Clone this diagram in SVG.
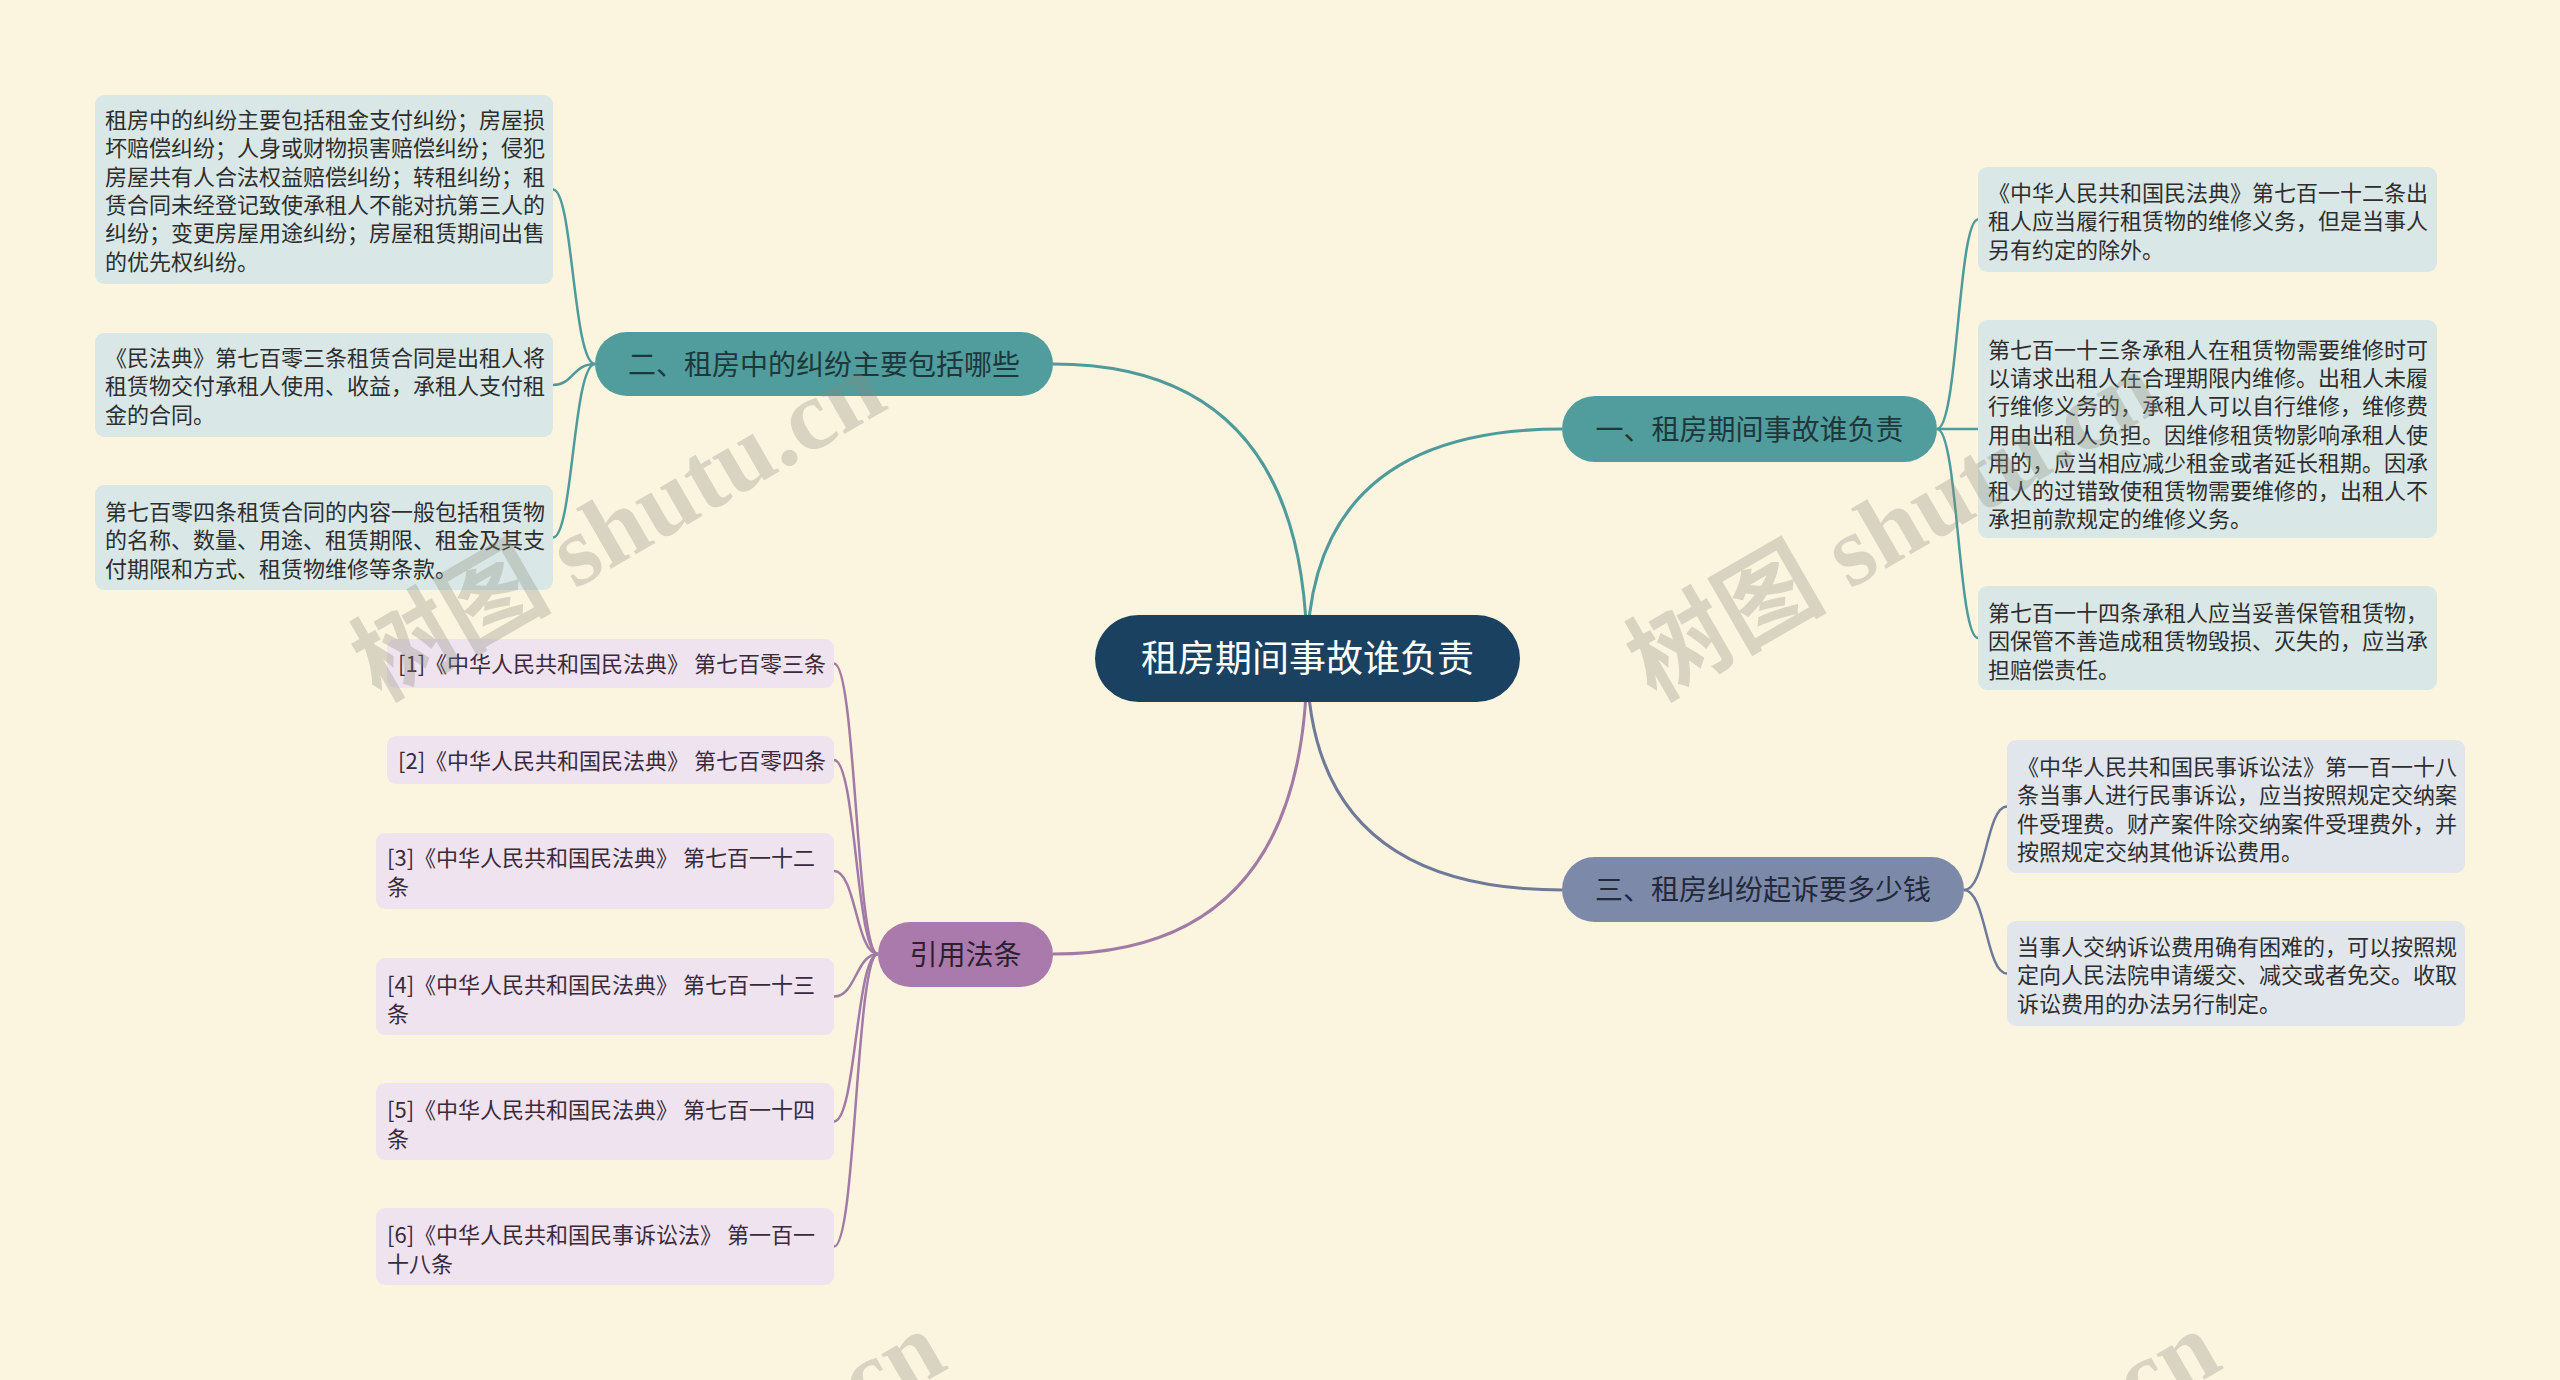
<svg xmlns="http://www.w3.org/2000/svg" width="2560" height="1380" viewBox="0 0 2560 1380">
<style>
text{font-family:"Noto Sans CJK SC","Noto Sans",sans-serif;}
.leaf{font-size:22px;fill:#2e2e2e;}
.cite{font-size:22px;fill:#3a2a3c;}
.br{font-size:28px;}
.c-teal{fill:#519c9c;}
.c-slate{fill:#7d89a9;}
.c-purple{fill:#a97aab;}
.l-teal{fill:#d9e8e6;}
.l-slate{fill:#e1e5ec;}
.l-purple{fill:#eee3ee;}
.k-teal{stroke:#4f9a9b;}
.k-slate{stroke:#6f7a99;}
.k-purple{stroke:#a27aa6;}
#connectors path{fill:none;stroke-width:2.5;}
#connectors .main{stroke-width:3;}
.wm{font-family:"Liberation Serif","Noto Sans CJK SC",serif;font-size:100px;font-weight:bold;fill:#8c8a7c;opacity:0.3;}
</style>
<rect width="2560" height="1380" fill="#fbf5e0"/>

<g id="connectors">
  <path class="main k-teal" d="M1053,364 Q1307,364 1307,658"/>
  <path class="main k-teal" d="M1562,429 Q1307,429 1307,658"/>
  <path class="main k-slate" d="M1562,890 Q1307,890 1307,658"/>
  <path class="main k-purple" d="M1053,954 Q1307,954 1307,658"/>
  <path class="k-teal" d="M595,364 C573,364 573,189.5 553,189.5"/>
  <path class="k-teal" d="M595,364 C573,364 573,385 553,385"/>
  <path class="k-teal" d="M595,364 C573,364 573,537.5 553,537.5"/>
  <path class="k-teal" d="M1937,429 C1958,429 1958,219.5 1978,219.5"/>
  <path class="k-teal" d="M1937,429 C1958,429 1958,429 1978,429"/>
  <path class="k-teal" d="M1937,429 C1958,429 1958,638 1978,638"/>
  <path class="k-slate" d="M1964,890 C1986,890 1986,806.5 2007,806.5"/>
  <path class="k-slate" d="M1964,890 C1986,890 1986,973.5 2007,973.5"/>
  <path class="k-purple" d="M878,954 C856,954 856,663.5 834,663.5"/>
  <path class="k-purple" d="M878,954 C856,954 856,760 834,760"/>
  <path class="k-purple" d="M878,954 C856,954 856,871 834,871"/>
  <path class="k-purple" d="M878,954 C856,954 856,996.5 834,996.5"/>
  <path class="k-purple" d="M878,954 C856,954 856,1121.5 834,1121.5"/>
  <path class="k-purple" d="M878,954 C856,954 856,1246.5 834,1246.5"/>
</g>

<g id="center">
  <rect x="1095" y="615" width="425" height="87" rx="43.5" fill="#1b4161"/>
  <text x="1307.5" y="672" font-size="37" fill="#ffffff" text-anchor="middle">租房期间事故谁负责</text>
</g>

<g id="branch-1">
  <rect class="c-teal" x="1562" y="396" width="375" height="66" rx="33"/>
  <text class="br" x="1749.5" y="439.5" fill="#1d383b" text-anchor="middle">一、租房期间事故谁负责</text>
</g>
<g id="branch-2">
  <rect class="c-teal" x="595" y="332" width="458" height="64" rx="32"/>
  <text class="br" x="824" y="374.5" fill="#1d383b" text-anchor="middle">二、租房中的纠纷主要包括哪些</text>
</g>
<g id="branch-3">
  <rect class="c-slate" x="1562" y="857" width="402" height="65" rx="32.5"/>
  <text class="br" x="1763" y="900" fill="#222a3a" text-anchor="middle">三、租房纠纷起诉要多少钱</text>
</g>
<g id="branch-cite">
  <rect class="c-purple" x="878" y="922" width="175" height="65" rx="32.5"/>
  <text class="br" x="965.5" y="965" fill="#2e1f30" text-anchor="middle">引用法条</text>
</g>

<g id="leaf-2a">
  <rect class="l-teal" x="95" y="95" width="458" height="189" rx="9"/>
  <text class="leaf" x="105" y="128">租房中的纠纷主要包括租金支付纠纷；房屋损</text>
  <text class="leaf" x="105" y="156.3">坏赔偿纠纷；人身或财物损害赔偿纠纷；侵犯</text>
  <text class="leaf" x="105" y="184.6">房屋共有人合法权益赔偿纠纷；转租纠纷；租</text>
  <text class="leaf" x="105" y="212.9">赁合同未经登记致使承租人不能对抗第三人的</text>
  <text class="leaf" x="105" y="241.2">纠纷；变更房屋用途纠纷；房屋租赁期间出售</text>
  <text class="leaf" x="105" y="269.5">的优先权纠纷。</text>
</g>
<g id="leaf-2b">
  <rect class="l-teal" x="95" y="333" width="458" height="104" rx="9"/>
  <text class="leaf" x="105" y="366">《民法典》第七百零三条租赁合同是出租人将</text>
  <text class="leaf" x="105" y="394.3">租赁物交付承租人使用、收益，承租人支付租</text>
  <text class="leaf" x="105" y="422.6">金的合同。</text>
</g>
<g id="leaf-2c">
  <rect class="l-teal" x="95" y="485" width="458" height="105" rx="9"/>
  <text class="leaf" x="105" y="520">第七百零四条租赁合同的内容一般包括租赁物</text>
  <text class="leaf" x="105" y="548.3">的名称、数量、用途、租赁期限、租金及其支</text>
  <text class="leaf" x="105" y="576.6">付期限和方式、租赁物维修等条款。</text>
</g>

<g id="leaf-1a">
  <rect class="l-teal" x="1978" y="167" width="459" height="105" rx="9"/>
  <text class="leaf" x="1988" y="201">《中华人民共和国民法典》第七百一十二条出</text>
  <text class="leaf" x="1988" y="229.3">租人应当履行租赁物的维修义务，但是当事人</text>
  <text class="leaf" x="1988" y="257.6">另有约定的除外。</text>
</g>
<g id="leaf-1b">
  <rect class="l-teal" x="1978" y="320" width="459" height="218" rx="9"/>
  <text class="leaf" x="1988" y="358">第七百一十三条承租人在租赁物需要维修时可</text>
  <text class="leaf" x="1988" y="386.2">以请求出租人在合理期限内维修。出租人未履</text>
  <text class="leaf" x="1988" y="414.4">行维修义务的，承租人可以自行维修，维修费</text>
  <text class="leaf" x="1988" y="442.6">用由出租人负担。因维修租赁物影响承租人使</text>
  <text class="leaf" x="1988" y="470.8">用的，应当相应减少租金或者延长租期。因承</text>
  <text class="leaf" x="1988" y="499">租人的过错致使租赁物需要维修的，出租人不</text>
  <text class="leaf" x="1988" y="527.2">承担前款规定的维修义务。</text>
</g>
<g id="leaf-1c">
  <rect class="l-teal" x="1978" y="586" width="459" height="104" rx="9"/>
  <text class="leaf" x="1988" y="621">第七百一十四条承租人应当妥善保管租赁物，</text>
  <text class="leaf" x="1988" y="649.3">因保管不善造成租赁物毁损、灭失的，应当承</text>
  <text class="leaf" x="1988" y="677.6">担赔偿责任。</text>
</g>

<g id="leaf-3a">
  <rect class="l-slate" x="2007" y="740" width="458" height="133" rx="9"/>
  <text class="leaf" x="2017" y="775">《中华人民共和国民事诉讼法》第一百一十八</text>
  <text class="leaf" x="2017" y="803.3">条当事人进行民事诉讼，应当按照规定交纳案</text>
  <text class="leaf" x="2017" y="831.6">件受理费。财产案件除交纳案件受理费外，并</text>
  <text class="leaf" x="2017" y="859.9">按照规定交纳其他诉讼费用。</text>
</g>
<g id="leaf-3b">
  <rect class="l-slate" x="2007" y="921" width="458" height="105" rx="9"/>
  <text class="leaf" x="2017" y="955">当事人交纳诉讼费用确有困难的，可以按照规</text>
  <text class="leaf" x="2017" y="983.3">定向人民法院申请缓交、减交或者免交。收取</text>
  <text class="leaf" x="2017" y="1011.6">诉讼费用的办法另行制定。</text>
</g>

<g id="cite-1">
  <rect class="l-purple" x="387" y="639" width="447" height="49" rx="9"/>
  <text class="cite" x="398" y="672">[1]《中华人民共和国民法典》 第七百零三条</text>
</g>
<g id="cite-2">
  <rect class="l-purple" x="387" y="736" width="447" height="48" rx="9"/>
  <text class="cite" x="398" y="769">[2]《中华人民共和国民法典》 第七百零四条</text>
</g>
<g id="cite-3">
  <rect class="l-purple" x="376" y="833" width="458" height="76" rx="9"/>
  <text class="cite" x="387" y="866">[3]《中华人民共和国民法典》 第七百一十二</text>
  <text class="cite" x="387" y="894.5">条</text>
</g>
<g id="cite-4">
  <rect class="l-purple" x="376" y="958" width="458" height="77" rx="9"/>
  <text class="cite" x="387" y="993">[4]《中华人民共和国民法典》 第七百一十三</text>
  <text class="cite" x="387" y="1021.5">条</text>
</g>
<g id="cite-5">
  <rect class="l-purple" x="376" y="1083" width="458" height="77" rx="9"/>
  <text class="cite" x="387" y="1118">[5]《中华人民共和国民法典》 第七百一十四</text>
  <text class="cite" x="387" y="1146.5">条</text>
</g>
<g id="cite-6">
  <rect class="l-purple" x="376" y="1208" width="458" height="77" rx="9"/>
  <text class="cite" x="387" y="1243">[6]《中华人民共和国民事诉讼法》 第一百一</text>
  <text class="cite" x="387" y="1271.5">十八条</text>
</g>

<g id="watermarks">
  <text class="wm" transform="translate(380,702) rotate(-30)">树图 shutu.cn</text>
  <text class="wm" transform="translate(1655,702) rotate(-30)">树图 shutu.cn</text>
  <text class="wm" transform="translate(440,1662) rotate(-30)">树图 shutu.cn</text>
  <text class="wm" transform="translate(1715,1662) rotate(-30)">树图 shutu.cn</text>
</g>
</svg>
